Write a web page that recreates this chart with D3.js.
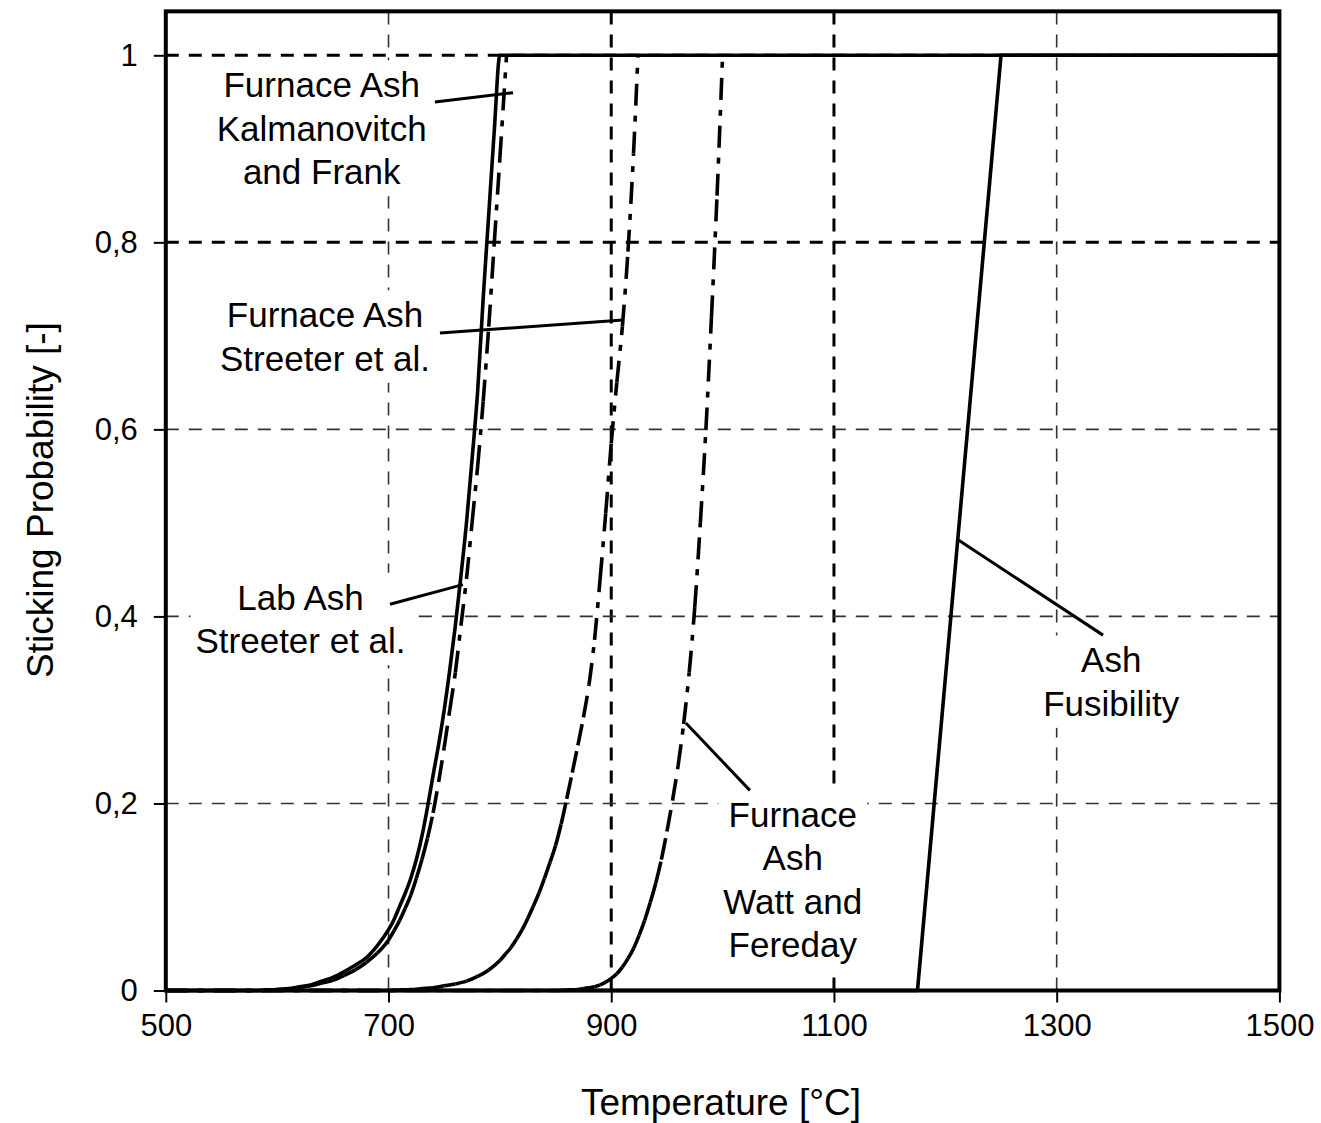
<!DOCTYPE html>
<html>
<head>
<meta charset="utf-8">
<script src="https://cdn.jsdelivr.net/npm/d3@7/dist/d3.min.js"></script>
<style>
  html, body { margin: 0; padding: 0; background: #fff; }
  svg { display: block; font-family: "Liberation Sans", Arial, sans-serif; }
</style>
</head>
<body>
<svg id="chart" width="1321" height="1123"></svg>
<script>
// Sticking probability of ash particles versus temperature

// Axis ticks
const xTicks = [500, 700, 900, 1100, 1300, 1500];
const yTicks = [0, 0.2, 0.4, 0.6, 0.8, 1];
const yTickLabels = ["0", "0,2", "0,4", "0,6", "0,8", "1"];
const xGrid = [700, 900, 1100, 1300];
const yGrid = [0.2, 0.4, 0.6, 0.8, 1];

// Lab ash, Streeter et al. (solid)
const labAshT = [500, 580, 590, 600, 610, 620, 630, 640, 650, 660, 670, 680, 690, 700, 705, 710, 715, 720, 725, 730,
  735, 740, 745, 750, 755, 760, 765, 770, 775, 780, 785, 790, 795, 800, 1500];
const labAshP = [0, 0, 0.0005, 0.001, 0.002, 0.004, 0.006, 0.010, 0.014, 0.020, 0.027, 0.035, 0.048, 0.065, 0.076, 0.09, 0.104, 0.12, 0.14, 0.165,
  0.196, 0.23, 0.263, 0.30, 0.343, 0.39, 0.443, 0.50, 0.568, 0.64, 0.74, 0.83, 0.92, 1, 1];

// Furnace ash, Kalmanovitch and Frank (dash-dot)
const kalmanT = [500, 590, 600, 610, 620, 630, 640, 650, 660, 670, 680, 690, 700, 705, 710, 715, 720, 725, 730, 735,
  740, 745, 750, 755, 760, 765, 770, 775, 780, 785, 790, 795, 800, 806];
const kalmanP = [0, 0, 0.001, 0.0015, 0.003, 0.005, 0.008, 0.011, 0.016, 0.022, 0.030, 0.040, 0.054, 0.064, 0.075, 0.088, 0.102, 0.12, 0.14, 0.163,
  0.19, 0.223, 0.26, 0.30, 0.34, 0.39, 0.44, 0.50, 0.56, 0.63, 0.71, 0.80, 0.89, 1];

// Furnace ash, Streeter et al. (dash-dot)
const streeterT = [500, 700, 710, 720, 730, 740, 750, 760, 770, 780, 790, 800, 805, 810, 815, 820, 825, 830, 835, 840,
  845, 850, 855, 860, 865, 870, 875, 880, 885, 890, 895, 900, 905, 910, 915, 920, 924];
const streeterP = [0, 0, 0.0005, 0.001, 0.002, 0.003, 0.005, 0.007, 0.010, 0.015, 0.022, 0.032, 0.039, 0.046, 0.055, 0.065, 0.077, 0.090, 0.104, 0.12,
  0.137, 0.155, 0.178, 0.205, 0.233, 0.262, 0.292, 0.327, 0.375, 0.44, 0.51, 0.585, 0.65, 0.71, 0.79, 0.895, 1];

// Furnace ash, Watt and Fereday (dash-dot)
const wattT = [500, 850, 860, 870, 875, 880, 885, 890, 895, 900, 905, 910, 915, 920, 925, 930, 935, 940, 945, 950,
  955, 960, 965, 970, 975, 980, 985, 990, 995, 1000];
const wattP = [0, 0, 0.0005, 0.001, 0.002, 0.003, 0.004, 0.006, 0.009, 0.013, 0.018, 0.025, 0.034, 0.045, 0.059, 0.075, 0.094, 0.115, 0.14, 0.17,
  0.203, 0.24, 0.285, 0.34, 0.41, 0.50, 0.60, 0.72, 0.85, 1];

// Ash fusibility (solid, piecewise linear)
const fusibilityT = [500, 1175, 1250, 1500];
const fusibilityP = [0, 0, 1, 1];

// Annotations: text lines, text anchor (T, P), leader line from/to (T, P)
const annotationText = [
  ["Furnace Ash", "Kalmanovitch", "and Frank"],
  ["Furnace Ash", "Streeter et al."],
  ["Lab Ash", "Streeter et al."],
  ["Ash", "Fusibility"],
  ["Furnace", "Ash", "Watt and", "Fereday"]
];
const annotationAnchor = [[640, 0.968], [643, 0.722], [621, 0.420], [1349, 0.353], [1063, 0.188]];
const leaderFrom = [[741.7, 0.950], [746.2, 0.703], [701.3, 0.413], [1341.6, 0.380], [1024.5, 0.214]];
const leaderTo = [[811.8, 0.960], [910.5, 0.717], [766.8, 0.434], [1211.4, 0.482], [967, 0.286]];

const svg = d3.select("#chart");
const W = 1321, H = 1123;
svg.append("rect").attr("width", W).attr("height", H).attr("fill", "#fff");

const x = d3.scaleLinear().domain([500, 1500]).range([165.8, 1279.4]);
const y = d3.scaleLinear().domain([0, 1]).range([990.5, 55.3]);
const yTop = 1.047;

const plot = svg.append("g");

// Grid lines
const boldX = new Set([900, 1100]);
const boldY = new Set([0.8, 1]);
plot.selectAll("line.gx").data(xGrid).enter().append("line")
  .attr("class", "gx")
  .attr("x1", d => x(d)).attr("x2", d => x(d))
  .attr("y1", y(0)).attr("y2", y(yTop))
  .attr("stroke", d => boldX.has(d) ? "#000" : "#333")
  .attr("stroke-width", d => boldX.has(d) ? 3 : 1.6)
  .attr("stroke-dasharray", "13,10");
plot.selectAll("line.gy").data(yGrid).enter().append("line")
  .attr("class", "gy")
  .attr("x1", x(500)).attr("x2", x(1500))
  .attr("y1", d => y(d)).attr("y2", d => y(d))
  .attr("stroke", d => boldY.has(d) ? "#000" : "#333")
  .attr("stroke-width", d => boldY.has(d) ? 3 : 1.6)
  .attr("stroke-dasharray", "13,10");

// Annotation text boxes (white fill hides the grid behind them)
const boxLayer = svg.append("g");
const curveLayer = svg.append("g");
const textLayer = svg.append("g");

const lineGap = 43.5;
annotationText.forEach((lines, i) => {
  const t = textLayer.append("text").attr("text-anchor", "middle")
    .attr("font-size", 35).attr("fill", "#000");
  lines.forEach((s, j) => {
    t.append("tspan")
      .attr("x", x(annotationAnchor[i][0]))
      .attr("y", y(annotationAnchor[i][1]) + j * lineGap + 12)
      .text(s);
  });
  const bb = t.node().getBBox();
  const pad = 5;
  boxLayer.append("rect")
    .attr("x", bb.x - pad).attr("y", bb.y - pad)
    .attr("width", bb.width + 2 * pad).attr("height", bb.height + 2 * pad)
    .attr("fill", "#fff");
  textLayer.append("line")
    .attr("x1", x(leaderFrom[i][0])).attr("y1", y(leaderFrom[i][1]))
    .attr("x2", x(leaderTo[i][0])).attr("y2", y(leaderTo[i][1]))
    .attr("stroke", "#000").attr("stroke-width", 3);
});

// Curves
function solidCurve(T, P, curve) {
  const pts = T.map((t, i) => [t, P[i]]);
  curveLayer.append("path")
    .attr("d", d3.line().x(d => x(d[0])).y(d => y(d[1])).curve(curve)(pts))
    .attr("fill", "none").attr("stroke", "#000")
    .attr("stroke-width", 3.6).attr("stroke-linejoin", "round");
}

// Smooth curve split into one path per data interval, so the
// dash-dot pattern restarts at each computed point
function dashDotCurve(T, P) {
  const pts = T.map((t, i) => [t, P[i]]);
  const segs = [];
  let cur = null;
  const rec = {
    moveTo(a, b) { cur = [a, b]; },
    lineTo(a, b) { segs.push(`M${cur[0]},${cur[1]}L${a},${b}`); cur = [a, b]; },
    bezierCurveTo(a1, b1, a2, b2, a, b) {
      segs.push(`M${cur[0]},${cur[1]}C${a1},${b1},${a2},${b2},${a},${b}`); cur = [a, b];
    },
    closePath() {}
  };
  d3.line().x(d => x(d[0])).y(d => y(d[1])).curve(d3.curveMonotoneX).context(rec)(pts);
  curveLayer.append("g").selectAll("path").data(segs).enter().append("path")
    .attr("d", d => d)
    .attr("fill", "none").attr("stroke", "#000").attr("stroke-width", 3.6)
    .attr("stroke-dasharray", "22,10,6,10");
}
dashDotCurve(kalmanT, kalmanP);
dashDotCurve(streeterT, streeterP);
dashDotCurve(wattT, wattP);
solidCurve(labAshT, labAshP, d3.curveMonotoneX);
solidCurve(fusibilityT, fusibilityP, d3.curveLinear);

// Frame
svg.append("rect")
  .attr("x", x(500)).attr("y", y(yTop))
  .attr("width", x(1500) - x(500)).attr("height", y(0) - y(yTop))
  .attr("fill", "none").attr("stroke", "#000").attr("stroke-width", 4);

// Axes (tick marks outside the frame, labels)
const xAxis = d3.axisBottom(x).tickValues(xTicks).tickSize(12).tickSizeOuter(0).tickPadding(10)
  .tickFormat(d3.format("d"));
const gx = svg.append("g").attr("transform", `translate(0,${y(0)})`).call(xAxis);
gx.select(".domain").remove();
gx.selectAll(".tick line").attr("stroke", "#000").attr("stroke-width", 2);
gx.selectAll(".tick text").attr("font-size", 31).attr("fill", "#000")
  .attr("font-family", '"Liberation Sans", Arial, sans-serif').attr("dy", "0.75em");

const yAxis = d3.axisLeft(y).tickValues(yTicks).tickSize(12).tickSizeOuter(0).tickPadding(16)
  .tickFormat((d, i) => yTickLabels[i]);
const gy = svg.append("g").attr("transform", `translate(${x(500)},0)`).call(yAxis);
gy.select(".domain").remove();
gy.selectAll(".tick line").attr("stroke", "#000").attr("stroke-width", 2);
gy.selectAll(".tick text").attr("font-size", 31).attr("fill", "#000")
  .attr("font-family", '"Liberation Sans", Arial, sans-serif');

// Axis titles
svg.append("text").attr("x", 721).attr("y", 1115).attr("text-anchor", "middle")
  .attr("font-size", 37).attr("fill", "#000").text("Temperature [°C]");
svg.append("text").attr("transform", "translate(53,500) rotate(-90)")
  .attr("text-anchor", "middle").attr("font-size", 37).attr("fill", "#000")
  .text("Sticking Probability [-]");
</script>
</body>
</html>
